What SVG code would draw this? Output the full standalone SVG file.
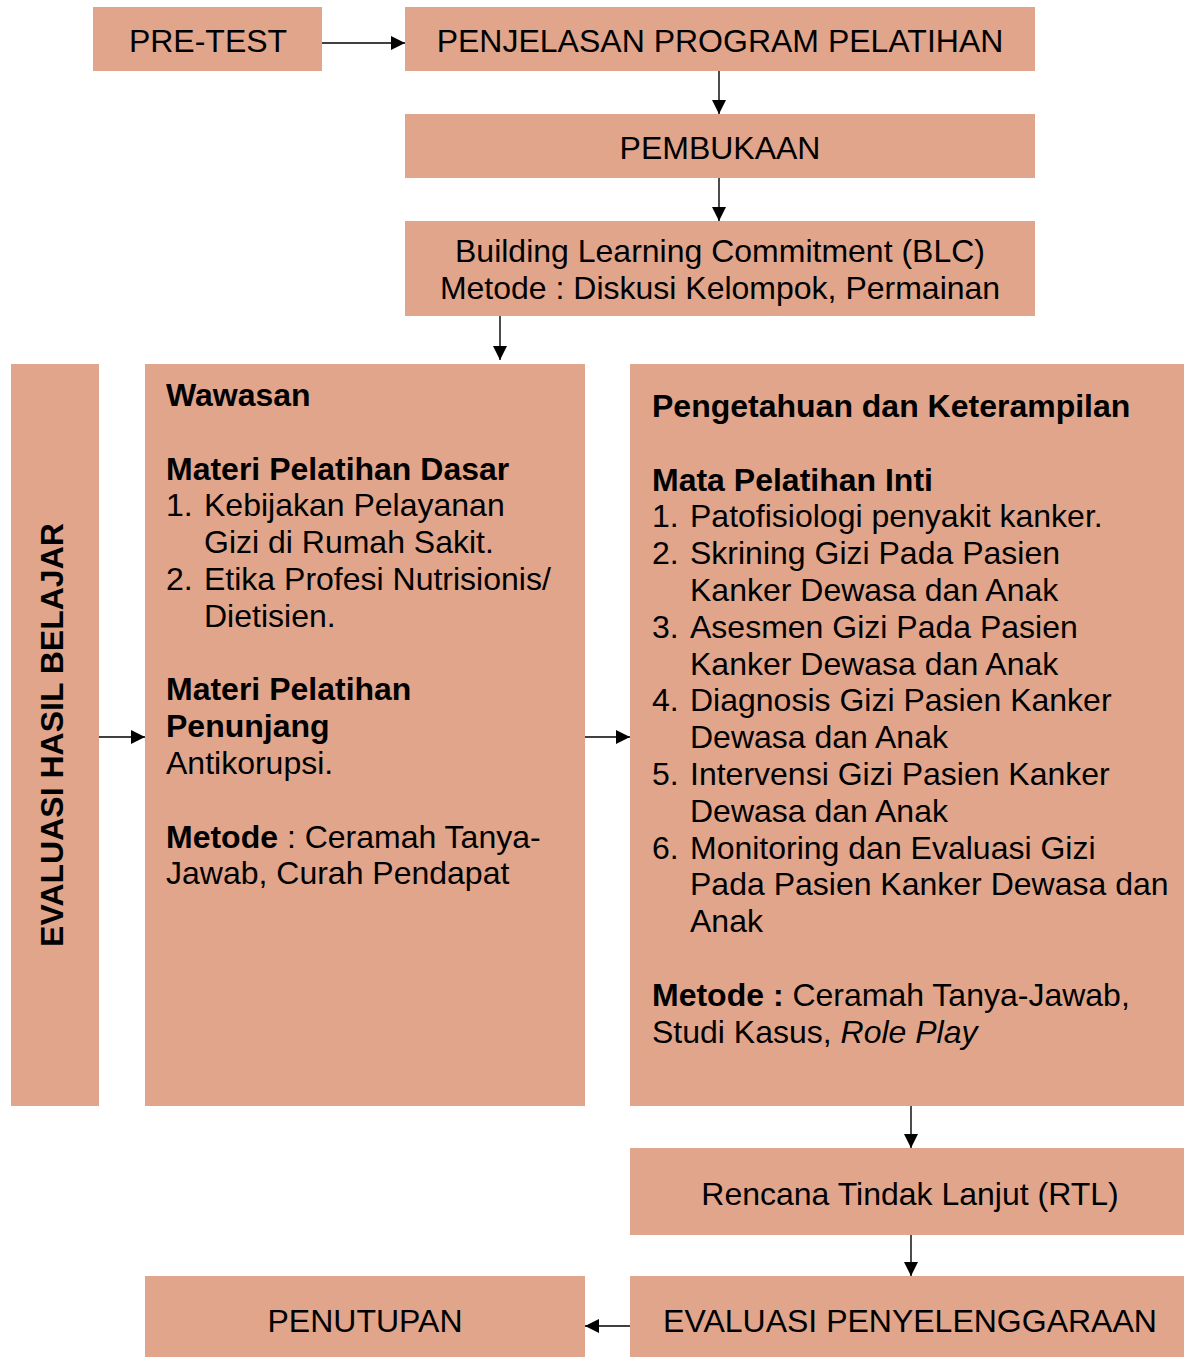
<svg xmlns="http://www.w3.org/2000/svg" width="1184" height="1357" viewBox="0 0 1184 1357">
<style>
.box{fill:#E1A58B;}
text{font-family:"Liberation Sans",Arial,sans-serif;font-size:32px;fill:#000;}
.c{text-anchor:middle;}
.b{font-weight:bold;}
.conn{stroke:#000;stroke-width:1.4;fill:none;marker-end:url(#ah);}
</style>
<defs>
<marker id="ah" markerUnits="userSpaceOnUse" markerWidth="16" markerHeight="14" refX="14" refY="7" orient="auto">
<path d="M0,0 L14,7 L0,14 Z" fill="#000"/>
</marker>
</defs>
<rect width="1184" height="1357" fill="#fff"/>
<g id="pretest"><rect class="box" x="93" y="7" width="229" height="64"/><text class="c" x="208" y="52">PRE-TEST</text></g>
<g id="penjelasan"><rect class="box" x="405" y="7" width="630" height="64"/><text class="c" x="720" y="52">PENJELASAN PROGRAM PELATIHAN</text></g>
<g id="pembukaan"><rect class="box" x="405" y="114" width="630" height="64"/><text class="c" x="720" y="159">PEMBUKAAN</text></g>
<g id="blc"><rect class="box" x="405" y="221" width="630" height="95"/><text class="c" x="720" y="262">Building Learning Commitment (BLC)</text><text class="c" x="720" y="299">Metode : Diskusi Kelompok, Permainan</text></g>
<g id="evaluasi-hasil"><rect class="box" x="11" y="364" width="88" height="742"/><text class="c b" transform="translate(63,735) rotate(-90)">EVALUASI HASIL BELAJAR</text></g>
<g id="wawasan"><rect class="box" x="145" y="364" width="440" height="742"/>
<text class="b" x="166" y="406">Wawasan</text>
<text class="b" x="166" y="479.6">Materi Pelatihan Dasar</text>
<text x="166" y="516.4">1.</text><text x="204" y="516.4">Kebijakan Pelayanan</text>
<text x="204" y="553.2">Gizi di Rumah Sakit.</text>
<text x="166" y="590">2.</text><text x="204" y="590">Etika Profesi Nutrisionis/</text>
<text x="204" y="626.8">Dietisien.</text>
<text class="b" x="166" y="700.4">Materi Pelatihan</text>
<text class="b" x="166" y="737.2">Penunjang</text>
<text x="166" y="774">Antikorupsi.</text>
<text x="166" y="847.6"><tspan class="b">Metode</tspan> : Ceramah Tanya-</text>
<text x="166" y="884.4">Jawab, Curah Pendapat</text>
</g>
<g id="pengetahuan"><rect class="box" x="630" y="364" width="554" height="742"/>
<text class="b" x="652" y="417">Pengetahuan dan Keterampilan</text>
<text class="b" x="652" y="490.6">Mata Pelatihan Inti</text>
<text x="652" y="527.4">1.</text><text x="690" y="527.4">Patofisiologi penyakit kanker.</text>
<text x="652" y="564.2">2.</text><text x="690" y="564.2">Skrining Gizi Pada Pasien</text>
<text x="690" y="601">Kanker Dewasa dan Anak</text>
<text x="652" y="637.8">3.</text><text x="690" y="637.8">Asesmen Gizi Pada Pasien</text>
<text x="690" y="674.6">Kanker Dewasa dan Anak</text>
<text x="652" y="711.4">4.</text><text x="690" y="711.4">Diagnosis Gizi Pasien Kanker</text>
<text x="690" y="748.2">Dewasa dan Anak</text>
<text x="652" y="785">5.</text><text x="690" y="785">Intervensi Gizi Pasien Kanker</text>
<text x="690" y="821.8">Dewasa dan Anak</text>
<text x="652" y="858.6">6.</text><text x="690" y="858.6">Monitoring dan Evaluasi Gizi</text>
<text x="690" y="895.4">Pada Pasien Kanker Dewasa dan</text>
<text x="690" y="932.2">Anak</text>
<text x="652" y="1005.8"><tspan class="b">Metode :</tspan> Ceramah Tanya-Jawab,</text>
<text x="652" y="1042.6">Studi Kasus, <tspan font-style="italic">Role Play</tspan></text>
</g>
<g id="rtl"><rect class="box" x="630" y="1148" width="554" height="87"/><text class="c" x="910" y="1205">Rencana Tindak Lanjut (RTL)</text></g>
<g id="evaluasi-penyelenggaraan"><rect class="box" x="630" y="1276" width="554" height="81"/><text class="c" x="910" y="1332">EVALUASI PENYELENGGARAAN</text></g>
<g id="penutupan"><rect class="box" x="145" y="1276" width="440" height="81"/><text class="c" x="365" y="1332">PENUTUPAN</text></g>
<g id="connectors">
<line class="conn" x1="322" y1="43" x2="405" y2="43"/>
<line class="conn" x1="719" y1="71" x2="719" y2="114"/>
<line class="conn" x1="719" y1="178" x2="719" y2="221"/>
<line class="conn" x1="500" y1="316" x2="500" y2="360"/>
<line class="conn" x1="99" y1="737" x2="145" y2="737"/>
<line class="conn" x1="585" y1="737" x2="630" y2="737"/>
<line class="conn" x1="911" y1="1106" x2="911" y2="1148"/>
<line class="conn" x1="911" y1="1235" x2="911" y2="1276"/>
<line class="conn" x1="630" y1="1326" x2="585" y2="1326"/>
</g>
</svg>
